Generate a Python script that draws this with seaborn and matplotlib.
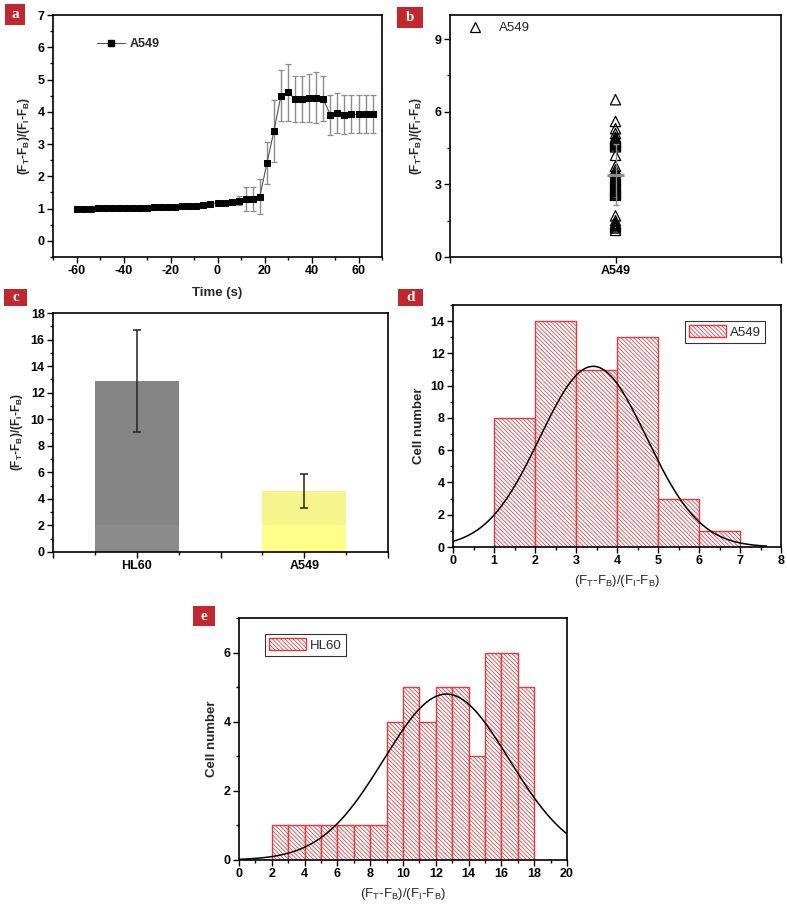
import numpy as np
import pandas as pd
import matplotlib
matplotlib.use('Agg')
import matplotlib.pyplot as plt
import seaborn as sns
from matplotlib.patches import Rectangle, Patch
from matplotlib.lines import Line2D
from matplotlib.ticker import MultipleLocator, FixedLocator

# ---------------- data ----------------
# panel a
time_s = [-60, -57, -54, -51, -48, -45, -42, -39, -36, -33,
          -30, -27, -24, -21, -18, -15, -12, -9, -6, -3,
          0, 3, 6, 9, 12, 15, 18, 21, 24, 27,
          30, 33, 36, 39, 42, 45, 48, 51, 54, 57,
          60, 63, 66]
ratio_a = [1.00, 1.00, 1.00, 1.01, 1.01, 1.02, 1.02, 1.02, 1.03, 1.03,
           1.03, 1.04, 1.04, 1.05, 1.06, 1.07, 1.08, 1.09, 1.10, 1.15,
           1.18, 1.18, 1.20, 1.25, 1.29, 1.30, 1.37, 2.40, 3.40, 4.50,
           4.60, 4.40, 4.40, 4.42, 4.44, 4.40, 3.90, 3.95, 3.91, 3.92,
           3.92, 3.92, 3.92]
err_a = [0, 0, 0, 0, 0, 0, 0, 0, 0, 0,
         0, 0, 0, 0, 0, 0, 0, 0, 0.02, 0.03,
         0.03, 0.03, 0.06, 0.15, 0.37, 0.38, 0.54, 0.65, 0.97, 0.80,
         0.88, 0.72, 0.72, 0.74, 0.78, 0.70, 0.63, 0.62, 0.60, 0.59,
         0.59, 0.59, 0.59]

# panel b (single-cell ratios, A549)
ratio_b = [1.10, 1.20, 1.25, 1.30, 1.35, 1.40, 1.50, 1.70,
           2.55, 2.60, 2.62, 2.65, 2.70, 2.72, 2.75, 2.78, 2.80, 2.85, 2.88, 2.90, 2.95, 2.98,
           3.05, 3.10, 3.15, 3.20, 3.25, 3.30, 3.35, 3.40, 3.50, 3.60, 3.75,
           4.20, 4.55, 4.60, 4.65, 4.70, 4.72, 4.75, 4.78, 4.80, 4.85, 4.88, 4.90, 4.95,
           5.10, 5.30, 5.60, 6.50]
mean_b = 3.40
sd_b = 1.25

# panel c
cells_c = ['HL60', 'A549']
mean_c = [12.9, 4.6]
sd_c = [3.85, 1.3]
band_c = [2.0, 2.0]

# panel d histogram (A549)
edges_d = [1, 2, 3, 4, 5, 6, 7]
counts_d = [8, 14, 11, 13, 3, 1]
fit_d = dict(mu=3.42, sigma=1.30, amp=11.2, x0=0.0, x1=7.65)

# panel e histogram (HL60)
edges_e = [2, 3, 4, 5, 6, 7, 8, 9, 10, 11, 12, 13, 14, 15, 16, 17, 18]
counts_e = [1, 1, 1, 1, 1, 1, 1, 4, 5, 4, 5, 5, 3, 6, 6, 5]
fit_e = dict(mu=12.65, sigma=3.82, amp=4.8, x0=0.0, x1=20.0)

# ---------------- style ----------------
sns.set_theme(style='ticks')
plt.rcParams['font.family'] = ['Liberation Sans', 'DejaVu Sans']
plt.rcParams['mathtext.fontset'] = 'custom'
plt.rcParams['mathtext.rm'] = 'Liberation Sans'
plt.rcParams['mathtext.bf'] = 'Liberation Sans:bold'
plt.rcParams['mathtext.it'] = 'Liberation Sans:italic'
plt.rcParams['axes.unicode_minus'] = False
plt.rcParams['hatch.linewidth'] = 0.55
plt.rcParams['axes.linewidth'] = 1.2

W, H = 787, 908
fig = plt.figure(figsize=(W / 100, H / 100), dpi=100)

HATCH = '\\' * 8
RED = '#e8383d'


def ax_px(x0, y0, x1, y1):
    return fig.add_axes([x0 / W, 1 - y1 / H, (x1 - x0) / W, (y1 - y0) / H])


def style_ax(ax, fs=9):
    for s in ax.spines.values():
        s.set_visible(True)
        s.set_color('black')
        s.set_linewidth(1.2)
    ax.tick_params(which='both', direction='out', top=False, right=False,
                   colors='black', width=1.0)
    ax.tick_params(which='major', length=4, labelsize=fs, pad=2)
    ax.tick_params(which='minor', length=2.5)
    for lab in ax.get_xticklabels() + ax.get_yticklabels():
        lab.set_fontweight('bold')


def panel_label(letter, x0, y0, x1, y1):
    fig.add_artist(Rectangle((x0 / W, 1 - y1 / H), (x1 - x0) / W, (y1 - y0) / H,
                             transform=fig.transFigure, facecolor='#c1272d',
                             edgecolor='none'))
    fig.text((x0 + x1) / 2 / W, 1 - (y0 + y1) / 2 / H, letter, color='white',
             fontsize=11, fontweight='bold', family='Liberation Serif',
             ha='center', va='center')


ylab = r'(F$_{\mathbf{T}}$-F$_{\mathbf{B}}$)/(F$_{\mathbf{I}}$-F$_{\mathbf{B}}$)'
xlab_norm = r'(F$_{\mathrm{T}}$-F$_{\mathrm{B}}$)/(F$_{\mathrm{I}}$-F$_{\mathrm{B}}$)'

# ---------------- panel a ----------------
ax = ax_px(53, 15, 382, 257)
dfa = pd.DataFrame({'t': time_s, 'r': ratio_a, 'e': err_a})
ax.errorbar(dfa['t'], dfa['r'], yerr=dfa['e'], fmt='none', ecolor='#8c8c8c',
            elinewidth=1.0, capsize=2.5, capthick=0.9, zorder=2)
sns.lineplot(data=dfa, x='t', y='r', ax=ax, color='#555555', linewidth=0.8,
             marker='s', markersize=4.6, markerfacecolor='black',
             markeredgecolor='black', zorder=3)
ax.set_xlim(-70, 70)
ax.set_ylim(-0.5, 7)
ax.xaxis.set_major_locator(FixedLocator([-60, -40, -20, 0, 20, 40, 60]))
ax.xaxis.set_minor_locator(MultipleLocator(10))
ax.yaxis.set_major_locator(MultipleLocator(1))
ax.yaxis.set_minor_locator(MultipleLocator(0.5))
ax.set_xlabel('Time (s)', fontsize=9.5, fontweight='bold', labelpad=7)
ax.set_ylabel(ylab, fontsize=8.5, fontweight='bold', labelpad=4)
style_ax(ax)
h = Line2D([], [], color='#555555', lw=0.8, marker='s', markersize=4.6,
           markerfacecolor='black', markeredgecolor='black')
ax.legend([h], ['A549'], loc='upper left', bbox_to_anchor=(0.1, 0.95),
          frameon=False, prop={'weight': 'bold', 'size': 9},
          handlelength=2.2, handletextpad=0.4)

# ---------------- panel b ----------------
ax = ax_px(450, 15, 781, 257)
dfb = pd.DataFrame({'cell': [0.0] * len(ratio_b), 'r': ratio_b})
sns.scatterplot(data=dfb, x='cell', y='r', ax=ax, marker='^', s=55,
                facecolor='none', edgecolor='black', linewidth=0.9, zorder=3)
ax.errorbar([0.0], [mean_b], yerr=[sd_b], fmt='none', ecolor='#8c8c8c',
            elinewidth=1.0, capsize=2.5, zorder=4)
ax.errorbar([0.0], [mean_b], xerr=[0.05], fmt='none', ecolor='#8c8c8c',
            elinewidth=2.2, capsize=0, zorder=4)
ax.set_xlim(-1, 1)
ax.set_ylim(0, 10)
ax.xaxis.set_major_locator(FixedLocator([-1, 0, 1]))
ax.set_xticklabels(['', 'A549', ''])
ax.yaxis.set_major_locator(FixedLocator([0, 3, 6, 9]))
ax.yaxis.set_minor_locator(FixedLocator([1.5, 4.5, 7.5]))
ax.set_xlabel('')
ax.set_ylabel(ylab, fontsize=8.5, fontweight='bold', labelpad=8)
style_ax(ax)
h = Line2D([], [], ls='none', marker='^', markersize=7.5, markerfacecolor='none',
           markeredgecolor='black', markeredgewidth=0.9)
ax.legend([h], ['A549'], loc='upper left', bbox_to_anchor=(0.0, 1.02),
          frameon=False, prop={'size': 9.5}, handletextpad=0.8)

# ---------------- panel c ----------------
ax = ax_px(53, 313, 388, 552)
dfc = pd.DataFrame({'cell': cells_c, 'm': mean_c, 'sd': sd_c, 'band': band_c})
sns.barplot(data=dfc, x='cell', y='m', hue='cell', palette=['#858585', '#f5f58c'],
            width=0.5, ax=ax, legend=False, errorbar=None, saturation=1)
sns.barplot(data=dfc, x='cell', y='band', hue='cell', palette=['#8b8b8b', '#ffff8a'],
            width=0.5, ax=ax, legend=False, errorbar=None, saturation=1)
for p in ax.patches:
    p.set_edgecolor('none')
ax.errorbar([0, 1], dfc['m'], yerr=dfc['sd'], fmt='none', ecolor='#222222',
            elinewidth=1.1, capsize=3, capthick=1.1, zorder=5)
ax.set_xlim(-0.5, 1.5)
ax.set_ylim(0, 18)
ax.xaxis.set_major_locator(FixedLocator([-0.5, 0, 0.5, 1, 1.5]))
ax.set_xticklabels(['', 'HL60', '', 'A549', ''])
ax.xaxis.set_minor_locator(FixedLocator([-0.25, 0.25, 0.75, 1.25]))
ax.yaxis.set_major_locator(MultipleLocator(2))
ax.yaxis.set_minor_locator(MultipleLocator(1))
ax.set_xlabel('')
ax.set_ylabel(ylab, fontsize=8.5, fontweight='bold', labelpad=4)
style_ax(ax)


# ---------------- histograms ----------------
def hist_panel(ax, edges, counts, fit, label, legloc, anchor):
    dfh = pd.DataFrame({'left': edges[:-1], 'n': counts})
    sns.histplot(data=dfh, x='left', weights='n', bins=edges, ax=ax,
                 fill=True, facecolor='white', edgecolor=RED,
                 linewidth=1.0, hatch=HATCH, alpha=1)
    xs = np.linspace(fit['x0'], fit['x1'], 300)
    dff = pd.DataFrame({'x': xs,
                        'y': fit['amp'] * np.exp(-(xs - fit['mu']) ** 2 / (2 * fit['sigma'] ** 2))})
    sns.lineplot(data=dff, x='x', y='y', ax=ax, color='black', linewidth=1.1)
    ax.set_ylabel('Cell number', fontsize=9.5, fontweight='bold', labelpad=4)
    ax.set_xlabel(xlab_norm, fontsize=9.5, labelpad=4)
    style_ax(ax)
    hp = Patch(facecolor='white', edgecolor=RED, hatch=HATCH, linewidth=1.0)
    ax.legend([hp], [label], loc=legloc, bbox_to_anchor=anchor, frameon=True,
              fancybox=False, edgecolor='black', prop={'size': 9.5},
              handlelength=2.8, handleheight=1.0, borderpad=0.3,
              handletextpad=0.3).get_frame().set_linewidth(0.8)


ax = ax_px(453, 305, 781, 547)
hist_panel(ax, edges_d, counts_d, fit_d, 'A549', 'upper right', (0.97, 0.96))
ax.set_xlim(0, 8)
ax.set_ylim(0, 15)
ax.xaxis.set_major_locator(MultipleLocator(1))
ax.xaxis.set_minor_locator(MultipleLocator(0.5))
ax.yaxis.set_major_locator(FixedLocator([0, 2, 4, 6, 8, 10, 12, 14]))
ax.yaxis.set_minor_locator(MultipleLocator(1))
style_ax(ax)

ax = ax_px(239, 618, 567, 860)
hist_panel(ax, edges_e, counts_e, fit_e, 'HL60', 'upper left', (0.06, 0.96))
ax.set_xlim(0, 20)
ax.set_ylim(0, 7)
ax.xaxis.set_major_locator(MultipleLocator(2))
ax.xaxis.set_minor_locator(MultipleLocator(1))
ax.yaxis.set_major_locator(FixedLocator([0, 2, 4, 6]))
ax.yaxis.set_minor_locator(MultipleLocator(1))
style_ax(ax)

# ---------------- panel labels ----------------
panel_label('a', 5, 4, 25, 25)
panel_label('b', 397, 7, 423, 28)
panel_label('c', 4, 289, 27, 306)
panel_label('d', 398, 289, 423, 306)
panel_label('e', 193, 606, 215, 626)

fig.savefig('out.png', dpi=100)
